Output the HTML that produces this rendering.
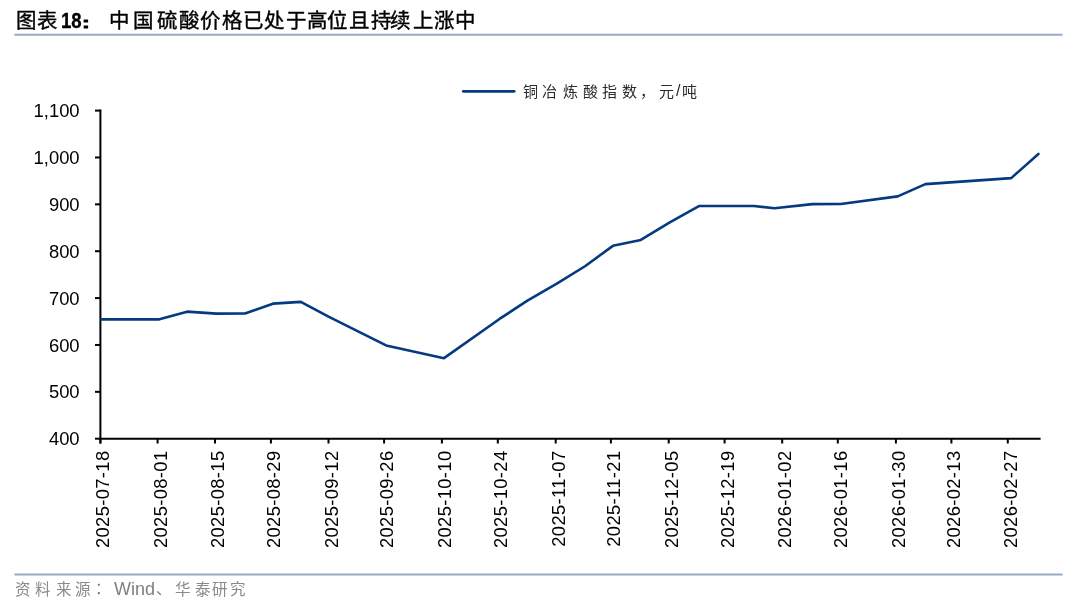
<!DOCTYPE html>
<html lang="zh-CN"><head><meta charset="utf-8">
<style>
html,body{margin:0;padding:0;background:#fff;}
body{width:1080px;height:605px;position:relative;overflow:hidden;font-family:"Liberation Sans",sans-serif;}
#wrap{position:absolute;left:0;top:0;width:1080px;height:605px;will-change:transform;}
.abs{position:absolute;white-space:nowrap;}
.c{position:absolute;white-space:nowrap;text-align:center;font-family:"Liberation Sans",sans-serif;}
.rule{position:absolute;left:14.5px;width:1048px;height:2.2px;background:#97adc6;}
svg{position:absolute;left:0;top:0;}
.yl{font-family:"Liberation Sans",sans-serif;font-size:18.4px;fill:#000;letter-spacing:0px;}
.xl{font-family:"Liberation Sans",sans-serif;font-size:18.4px;fill:#000;letter-spacing:0.35px;}
.t{font-size:20.5px;line-height:20.5px;color:#000;-webkit-text-stroke:0.4px #000;}
.lg{font-size:15px;line-height:15px;color:#2b2b2b;}
.s{font-size:15.5px;line-height:15.5px;color:#8a8a8a;}
.dot{position:absolute;background:#000;border-radius:1.2px;}
</style></head><body><div id="wrap">
<span class="c t" style="left:13.30px;top:11.35px;width:24.60px;">图</span>
<span class="c t" style="left:34.90px;top:11.35px;width:24.60px;">表</span>
<span class="c t" style="left:106.90px;top:11.35px;width:24.60px;">中</span>
<span class="c t" style="left:130.60px;top:11.35px;width:24.60px;">国</span>
<span class="c t" style="left:154.50px;top:11.35px;width:24.60px;">硫</span>
<span class="c t" style="left:176.90px;top:11.35px;width:24.60px;">酸</span>
<span class="c t" style="left:198.20px;top:11.35px;width:24.60px;">价</span>
<span class="c t" style="left:220.20px;top:11.35px;width:24.60px;">格</span>
<span class="c t" style="left:240.50px;top:11.35px;width:24.60px;">已</span>
<span class="c t" style="left:262.10px;top:11.35px;width:24.60px;">处</span>
<span class="c t" style="left:284.20px;top:11.35px;width:24.60px;">于</span>
<span class="c t" style="left:304.30px;top:11.35px;width:24.60px;">高</span>
<span class="c t" style="left:325.00px;top:11.35px;width:24.60px;">位</span>
<span class="c t" style="left:346.90px;top:11.35px;width:24.60px;">且</span>
<span class="c t" style="left:369.00px;top:11.35px;width:24.60px;">持</span>
<span class="c t" style="left:387.80px;top:11.35px;width:24.60px;">续</span>
<span class="c t" style="left:410.90px;top:11.35px;width:24.60px;">上</span>
<span class="c t" style="left:431.50px;top:11.35px;width:24.60px;">涨</span>
<span class="c t" style="left:452.90px;top:11.35px;width:24.60px;">中</span>
<div class="abs" style="left:61px;top:9.7px;font-weight:bold;font-size:22.6px;line-height:1;transform:scaleX(0.82);transform-origin:0 0;-webkit-text-stroke:0.35px #000;">18</div>
<div class="abs" id="colon" style="left:82.3px;top:14.7px;font-weight:bold;font-size:15.5px;line-height:1;transform:scaleX(1.5);transform-origin:0 0;-webkit-text-stroke:0.8px #000;">:</div>
<svg width="1080" height="605" viewBox="0 0 1080 605">
<line x1="14.4" y1="34.7" x2="1062.5" y2="34.7" stroke="#96acc5" stroke-width="2"/>
<line x1="14.4" y1="574.5" x2="1062.5" y2="574.5" stroke="#96acc5" stroke-width="2"/>
<line x1="100.4" y1="109.6" x2="100.4" y2="443.5" stroke="#000" stroke-width="2"/>
<line x1="99.4" y1="438.7" x2="1040.6" y2="438.7" stroke="#000" stroke-width="2"/>
<line x1="95" y1="438.70" x2="100.4" y2="438.70" stroke="#000" stroke-width="2"/>
<text x="79.6" y="445.30" text-anchor="end" class="yl">400</text>
<line x1="95" y1="391.83" x2="100.4" y2="391.83" stroke="#000" stroke-width="2"/>
<text x="79.6" y="398.43" text-anchor="end" class="yl">500</text>
<line x1="95" y1="344.96" x2="100.4" y2="344.96" stroke="#000" stroke-width="2"/>
<text x="79.6" y="351.56" text-anchor="end" class="yl">600</text>
<line x1="95" y1="298.09" x2="100.4" y2="298.09" stroke="#000" stroke-width="2"/>
<text x="79.6" y="304.69" text-anchor="end" class="yl">700</text>
<line x1="95" y1="251.21" x2="100.4" y2="251.21" stroke="#000" stroke-width="2"/>
<text x="79.6" y="257.81" text-anchor="end" class="yl">800</text>
<line x1="95" y1="204.34" x2="100.4" y2="204.34" stroke="#000" stroke-width="2"/>
<text x="79.6" y="210.94" text-anchor="end" class="yl">900</text>
<line x1="95" y1="157.47" x2="100.4" y2="157.47" stroke="#000" stroke-width="2"/>
<text x="79.6" y="164.07" text-anchor="end" class="yl">1,000</text>
<line x1="95" y1="110.60" x2="100.4" y2="110.60" stroke="#000" stroke-width="2"/>
<text x="79.6" y="117.20" text-anchor="end" class="yl">1,100</text>
<line x1="100.4" y1="438.7" x2="100.4" y2="443.5" stroke="#000" stroke-width="2"/>
<text transform="translate(109.40,450.5) rotate(-90)" text-anchor="end" class="xl">2025-07-18</text>
<line x1="157.6" y1="438.7" x2="157.6" y2="443.5" stroke="#000" stroke-width="2"/>
<text transform="translate(166.60,450.5) rotate(-90)" text-anchor="end" class="xl">2025-08-01</text>
<line x1="215.0" y1="438.7" x2="215.0" y2="443.5" stroke="#000" stroke-width="2"/>
<text transform="translate(224.00,450.5) rotate(-90)" text-anchor="end" class="xl">2025-08-15</text>
<line x1="270.9" y1="438.7" x2="270.9" y2="443.5" stroke="#000" stroke-width="2"/>
<text transform="translate(279.90,450.5) rotate(-90)" text-anchor="end" class="xl">2025-08-29</text>
<line x1="328.5" y1="438.7" x2="328.5" y2="443.5" stroke="#000" stroke-width="2"/>
<text transform="translate(337.50,450.5) rotate(-90)" text-anchor="end" class="xl">2025-09-12</text>
<line x1="384.1" y1="438.7" x2="384.1" y2="443.5" stroke="#000" stroke-width="2"/>
<text transform="translate(393.10,450.5) rotate(-90)" text-anchor="end" class="xl">2025-09-26</text>
<line x1="441.9" y1="438.7" x2="441.9" y2="443.5" stroke="#000" stroke-width="2"/>
<text transform="translate(450.90,450.5) rotate(-90)" text-anchor="end" class="xl">2025-10-10</text>
<line x1="497.8" y1="438.7" x2="497.8" y2="443.5" stroke="#000" stroke-width="2"/>
<text transform="translate(506.80,450.5) rotate(-90)" text-anchor="end" class="xl">2025-10-24</text>
<line x1="555.7" y1="438.7" x2="555.7" y2="443.5" stroke="#000" stroke-width="2"/>
<text transform="translate(564.70,450.5) rotate(-90)" text-anchor="end" class="xl">2025-11-07</text>
<line x1="610.9" y1="438.7" x2="610.9" y2="443.5" stroke="#000" stroke-width="2"/>
<text transform="translate(619.90,450.5) rotate(-90)" text-anchor="end" class="xl">2025-11-21</text>
<line x1="668.7" y1="438.7" x2="668.7" y2="443.5" stroke="#000" stroke-width="2"/>
<text transform="translate(677.70,450.5) rotate(-90)" text-anchor="end" class="xl">2025-12-05</text>
<line x1="724.6" y1="438.7" x2="724.6" y2="443.5" stroke="#000" stroke-width="2"/>
<text transform="translate(733.60,450.5) rotate(-90)" text-anchor="end" class="xl">2025-12-19</text>
<line x1="782.2" y1="438.7" x2="782.2" y2="443.5" stroke="#000" stroke-width="2"/>
<text transform="translate(791.20,450.5) rotate(-90)" text-anchor="end" class="xl">2026-01-02</text>
<line x1="837.8" y1="438.7" x2="837.8" y2="443.5" stroke="#000" stroke-width="2"/>
<text transform="translate(846.80,450.5) rotate(-90)" text-anchor="end" class="xl">2026-01-16</text>
<line x1="895.9" y1="438.7" x2="895.9" y2="443.5" stroke="#000" stroke-width="2"/>
<text transform="translate(904.90,450.5) rotate(-90)" text-anchor="end" class="xl">2026-01-30</text>
<line x1="951.4" y1="438.7" x2="951.4" y2="443.5" stroke="#000" stroke-width="2"/>
<text transform="translate(960.40,450.5) rotate(-90)" text-anchor="end" class="xl">2026-02-13</text>
<line x1="1007.8" y1="438.7" x2="1007.8" y2="443.5" stroke="#000" stroke-width="2"/>
<text transform="translate(1016.80,450.5) rotate(-90)" text-anchor="end" class="xl">2026-02-27</text>
<path d="M101.5,319.35 L159.4,319.35 L187.1,311.65 L216.5,313.65 L245.0,313.55 L272.9,303.65 L300.8,301.85 L329,316.85 L386.1,345.45 L444.0,358.15 L499.5,318.95 L527.0,300.95 L556.4,283.95 L585.0,266.25 L612.9,245.85 L640.8,239.95 L669.8,222.45 L698.9,206.05 L754.0,206.05 L774.4,208.25 L812.4,204.15 L840.8,203.95 L897.7,196.35 L925.4,184.15 L1011.2,178.15 L1038.4,153.95" fill="none" stroke="#053a80" stroke-width="2.6" stroke-linejoin="round" stroke-linecap="round"/>
<line x1="463.3" y1="91.3" x2="514.2" y2="91.3" stroke="#053a80" stroke-width="2.7" stroke-linecap="round"/>
</svg>
<span class="c lg" style="left:521.00px;top:83.80px;width:18.00px;">铜</span>
<span class="c lg" style="left:540.50px;top:83.80px;width:18.00px;">冶</span>
<span class="c lg" style="left:561.50px;top:83.80px;width:18.00px;">炼</span>
<span class="c lg" style="left:581.00px;top:83.80px;width:18.00px;">酸</span>
<span class="c lg" style="left:600.60px;top:83.80px;width:18.00px;">指</span>
<span class="c lg" style="left:620.50px;top:83.80px;width:18.00px;">数</span>
<span class="c lg" style="left:638.40px;top:83.80px;width:18.00px;">，</span>
<span class="c lg" style="left:657.40px;top:83.80px;width:18.00px;">元</span>
<span class="c lg" style="left:680.80px;top:83.80px;width:18.00px;">吨</span>
<div class="abs" style="left:676px;top:83px;font-size:16px;line-height:1;color:#2b2b2b;">/</div>
<span class="c s" style="left:14.20px;top:581.95px;width:18.60px;">资</span>
<span class="c s" style="left:33.80px;top:581.95px;width:18.60px;">料</span>
<span class="c s" style="left:54.40px;top:581.95px;width:18.60px;">来</span>
<span class="c s" style="left:74.00px;top:581.95px;width:18.60px;">源</span>
<span class="c s" style="left:173.70px;top:581.95px;width:18.60px;">华</span>
<span class="c s" style="left:194.00px;top:581.95px;width:18.60px;">泰</span>
<span class="c s" style="left:210.70px;top:581.95px;width:18.60px;">研</span>
<span class="c s" style="left:229.10px;top:581.95px;width:18.60px;">究</span>
<div class="abs" style="left:94.5px;top:581px;font-size:15.5px;line-height:1;color:#7f7f7f;">：</div>
<div class="abs" style="left:114px;top:580px;font-size:18px;line-height:1;color:#7f7f7f;letter-spacing:0px;">Wind</div>
<div class="abs" style="left:156px;top:581px;font-size:15.5px;line-height:1;color:#7f7f7f;">、</div>
</div></body></html>
